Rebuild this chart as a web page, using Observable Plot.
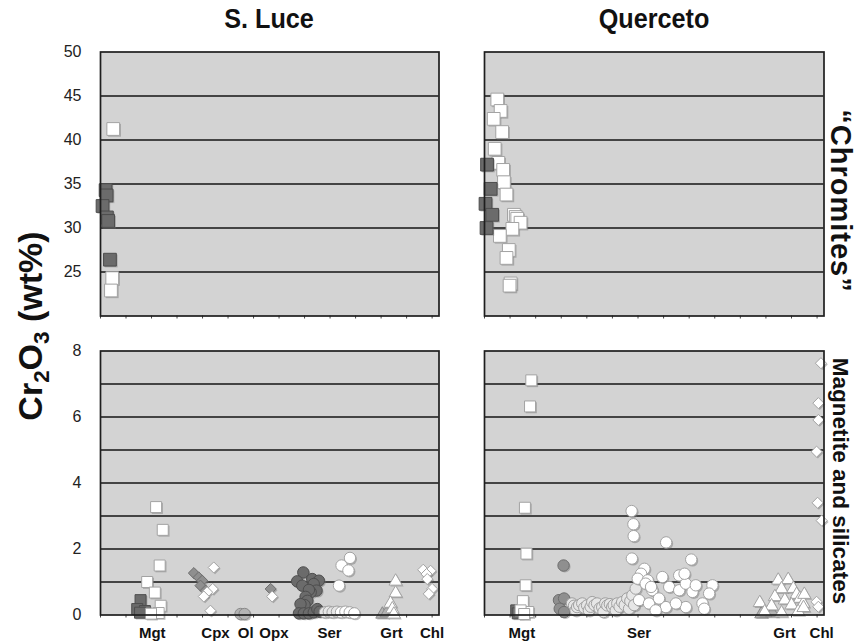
<!DOCTYPE html>
<html>
<head>
<meta charset="utf-8">
<script src="https://cdn.jsdelivr.net/npm/d3@7"></script>
<script src="https://cdn.jsdelivr.net/npm/@observablehq/plot@0.6"></script>
<style>
  html, body { margin: 0; padding: 0; background: #fff; }
  #wrap { position: relative; width: 858px; height: 642px; overflow: hidden; font-family: "Liberation Sans", Arial, sans-serif; }
  .panel { position: absolute; }
  .lbl { position: absolute; white-space: nowrap; color: #111; transform-origin: center center; line-height: 1; }
  .title { font-family: "Liberation Sans", Arial, sans-serif; font-weight: bold; font-size: 28px; }
</style>
</head>
<body>
<div id="wrap"></div>
<script>
// ---------------- DATA ----------------
// x = sample position along the plot (axis units), y = Cr2O3 wt%
const xTicks = [0,1,2,3,4,5,6,7,8,9,10,11,12,13];
const topGrid = [25,30,35,40,45];
const topLabels = [25,30,35,40,45,50];
const bottomGrid = [1,2,3,4,5,6,7];
const bottomLabels = [0,2,4,6,8];

const sluceCats = ["Mgt","Cpx","Ol","Opx","Ser","Grt","Chl"];
const sluceCatPos = [2.03, 4.51, 5.69, 6.8, 8.98, 11.41, 13.0];
const quercetoCats = ["Mgt","Ser","Grt","Chl"];
const quercetoCatPos = [1.46, 6.04, 11.73, 13.18];

// S. Luce "chromites"
const sluceChromDark = [[0.2,34.3],[0.24,33.7],[0.08,32.5],[0.25,31.2],[0.3,30.8],[0.37,26.4]];
const sluceChromWhite = [[0.5,41.25],[0.46,24.3],[0.41,22.9]];

// Querceto "chromites"
const querChromDark = [[0.1,37.2],[0.24,34.45],[0.04,32.75],[0.3,31.5],[0.08,30.0]];
const querChromWhite = [[0.5,44.6],[0.63,43.3],[0.36,42.4],[0.69,40.9],[0.4,39.0],[0.54,37.4],[0.73,36.6],[0.76,35.2],[0.86,33.8],[1.15,31.5],[1.22,31.25],[1.28,31.05],[1.41,30.6],[1.09,29.9],[0.6,29.1],[0.95,27.5],[0.86,26.6],[1.02,23.7],[0.98,23.45]];

// S. Luce magnetite and silicates
const sluceMgtDark = [[1.57,0.45],[1.44,0.18],[1.74,0.12],[1.55,0.07]];
const sluceMgtWhite = [[2.18,3.27],[2.44,2.58],[2.32,1.5],[1.83,1.0],[2.13,0.68],[2.36,0.28],[2.28,0.06],[1.98,0.04]];
const sluceCpxGrey = [[3.66,1.27],[3.85,1.14],[3.99,1.04],[3.92,0.89],[4.12,0.74]];
const sluceCpxWhite = [[4.44,1.44],[4.4,0.79],[4.18,0.69],[4.05,0.56],[4.31,0.13]];
const sluceOl = [[5.49,0.03],[5.65,0.03]];
const sluceOpxGrey = [[6.67,0.79]];
const sluceOpxWhite = [[6.73,0.56]];
const sluceSerDark = [[7.95,1.29],[7.71,1.02],[7.91,0.89],[8.3,1.09],[8.56,1.04],[8.36,0.94],[8.47,0.74],[8.24,0.69],[8.17,0.76],[8.04,0.55],[8.11,0.43],[8.0,0.3],[7.84,0.33],[7.78,0.05],[7.97,0.05],[8.17,0.05],[8.36,0.08],[8.5,0.18],[8.59,0.1]];
const sluceSerLight = [[8.8,0.08],[8.95,0.1],[9.1,0.08],[9.27,0.1]];
const sluceSerWhite = [[9.43,0.08],[9.6,0.1],[9.77,0.08],[9.95,0.05],[9.45,1.5],[9.78,1.73],[9.72,1.35],[9.35,0.89]];
const sluceGrtGrey = [[11.05,0.02],[11.22,0.06]];
const sluceGrtWhite = [[11.57,1.02],[11.57,0.66],[11.37,0.35],[11.44,0.18],[11.5,0.02]];
const sluceChl = [[12.65,1.37],[12.94,1.34],[12.78,1.24],[12.81,1.09],[13.0,0.79],[12.87,0.64]];

// Querceto magnetite and silicates
const querMgtDark = [[1.24,0.14],[1.3,0.05]];
const querMgtWhite = [[1.83,7.11],[1.78,6.32],[1.58,3.25],[1.64,1.86],[1.61,0.9],[1.5,0.42],[1.71,0.09],[1.41,0.14],[1.55,0.03]];
const querSerGrey = [[3.09,1.5],[2.91,0.45],[3.11,0.5],[2.94,0.19],[3.11,0.09]];
const querSerLight = [[3.42,0.35],[3.5,0.28],[3.56,0.14],[3.62,0.24],[3.7,0.3],[3.82,0.35],[3.9,0.22],[4.01,0.29],[4.08,0.14],[4.15,0.25],[4.21,0.39],[4.3,0.3],[4.4,0.35],[4.5,0.2],[4.6,0.24],[4.65,0.09],[4.72,0.35],[4.8,0.29],[4.9,0.33],[4.99,0.24],[5.05,0.3],[5.13,0.14],[5.19,0.35],[5.28,0.25],[5.38,0.39],[5.48,0.3],[5.58,0.5],[5.65,0.19],[5.7,0.42],[5.78,0.6],[5.85,0.3],[5.91,0.8]];
const querSerWhite = [[5.75,3.15],[5.82,2.75],[5.83,2.39],[7.1,2.2],[5.76,1.71],[8.08,1.68],[6.25,1.4],[6.12,1.25],[5.99,1.1],[6.38,1.05],[6.3,0.95],[6.56,0.75],[6.04,0.45],[6.43,0.35],[6.95,1.15],[7.22,0.85],[7.61,1.2],[7.61,0.75],[7.87,0.95],[8.13,0.7],[8.26,0.9],[8.91,0.9],[8.78,0.65],[8.52,0.35],[8.59,0.19],[7.87,0.24],[7.09,0.24],[6.69,0.14],[7.48,0.35],[6.82,0.5],[6.51,0.85],[7.82,1.25]];
const querGrtGrey = [[10.82,0.03],[11.25,0.06]];
const querGrtWhite = [[11.48,1.05],[11.87,1.07],[11.61,0.79],[12.07,0.8],[12.2,0.62],[11.35,0.55],[12.33,0.5],[11.74,0.45],[12.46,0.35],[12.5,0.62],[10.76,0.37],[11.22,0.27],[12.0,0.3],[10.95,0.09],[11.61,0.06],[12.26,0.1],[12.47,0.22]];
const querChl = [[13.15,7.63],[13.05,6.42],[13.05,5.91],[12.98,4.95],[13.02,3.4],[13.18,2.86],[12.98,0.4],[13.05,0.25]];

// ---------------- STYLES ----------------
const BG = "#d3d3d3";
const DARK = {fill: "#6b6b6b", stroke: "#4d4d4d"};
const GREY = {fill: "#8f8f8f", stroke: "#6e6e6e"};
const LGREY = {fill: "#b3b3b3", stroke: "#8a8a8a"};
const LIGHT = {fill: "#e6e6e6", stroke: "#a0a0a0"};
const WHITE = {fill: "#ffffff", stroke: "#a3a3a3"};

function layer(data, symbol, r, col) {
  return [
    Plot.dot(data, {x: d => d[0], y: d => d[1], symbol, r, fill: "#707070", fillOpacity: 0.45, dx: 1.3, dy: 1.3}),
    Plot.dot(data, {x: d => d[0], y: d => d[1], symbol, r, fill: col.fill, stroke: col.stroke, strokeWidth: 1})
  ];
}

const XDOM = [0, 13.27];

function panel({w, h, ml, mr, mt, mb, ydom, grid, labels, cats, catPos, layers}) {
  const marks = [
    Plot.frame({fill: BG}),
    Plot.ruleY(grid, {stroke: "#151515", strokeWidth: 1.7}),
    Plot.axisX(xTicks, {tickSize: 3, tickFormat: () => "", stroke: "#444"})
  ];
  if (labels) marks.push(Plot.axisY(labels, {tickSize: 0, tickPadding: 19, fontSize: 16, fill: "#222"}));
  if (cats) marks.push(Plot.axisX(catPos, {tickSize: 0, tickPadding: 12, tickFormat: (d, i) => cats[i], fontSize: 15, fontWeight: "bold", fill: "#111"}));
  layers.forEach(l => marks.push(...l));
  marks.push(Plot.frame({stroke: "#1e1e1e", strokeWidth: 1.7}));
  return Plot.plot({
    width: w, height: h, marginLeft: ml, marginRight: mr, marginTop: mt, marginBottom: mb,
    style: {fontFamily: "'Liberation Sans', Arial, sans-serif", background: "transparent", overflow: "visible"},
    x: {domain: XDOM, axis: null},
    y: {domain: ydom, axis: null},
    marks
  });
}

const wrap = document.getElementById("wrap");
function place(node, left, top) {
  const d = document.createElement("div");
  d.className = "panel";
  d.style.left = left + "px";
  d.style.top = top + "px";
  d.appendChild(node);
  wrap.appendChild(d);
}

const SQ_TOP = 7.2, SQ = 6.2, CIR = 5.7, DIA = 5.0, TRI = 4.9;

place(panel({w: 450, h: 330, ml: 100, mr: 11.5, mt: 51.5, mb: 14.5, ydom: [20, 50], grid: topGrid, labels: topLabels,
  layers: [layer(sluceChromWhite, "square", SQ_TOP, WHITE), layer(sluceChromDark, "square", SQ_TOP, DARK)]}), 0, 0);

place(panel({w: 408, h: 330, ml: 34, mr: 34.5, mt: 51.5, mb: 14.5, ydom: [20, 50], grid: topGrid,
  layers: [layer(querChromWhite, "square", SQ_TOP, WHITE), layer(querChromDark, "square", SQ_TOP, DARK)]}), 450, 0);

place(panel({w: 450, h: 312, ml: 100, mr: 11.5, mt: 20.5, mb: 27.5, ydom: [0, 8], grid: bottomGrid, labels: bottomLabels,
  cats: sluceCats, catPos: sluceCatPos,
  layers: [
    layer(sluceMgtDark, "square", SQ, DARK), layer(sluceMgtWhite, "square", SQ, WHITE),
    layer(sluceCpxGrey, "diamond2", DIA, GREY), layer(sluceCpxWhite, "diamond2", DIA, WHITE),
    layer(sluceOl, "circle", CIR, LGREY),
    layer(sluceOpxGrey, "diamond2", DIA, GREY), layer(sluceOpxWhite, "diamond2", DIA, WHITE),
    layer(sluceSerDark, "circle", CIR, DARK), layer(sluceSerLight, "circle", CIR, LIGHT), layer(sluceSerWhite, "circle", CIR, WHITE),
    layer(sluceGrtGrey, "triangle", TRI, LGREY), layer(sluceGrtWhite, "triangle", TRI, WHITE),
    layer(sluceChl, "diamond2", DIA, WHITE)
  ]}), 0, 330);

place(panel({w: 408, h: 312, ml: 34, mr: 34.5, mt: 20.5, mb: 27.5, ydom: [0, 8], grid: bottomGrid,
  cats: quercetoCats, catPos: quercetoCatPos,
  layers: [
    layer(querMgtDark, "square", SQ, DARK), layer(querMgtWhite, "square", SQ, WHITE),
    layer(querSerGrey, "circle", CIR, GREY), layer(querSerLight, "circle", CIR, LIGHT), layer(querSerWhite, "circle", CIR, WHITE),
    layer(querGrtGrey, "triangle", TRI, LGREY), layer(querGrtWhite, "triangle", TRI, WHITE),
    layer(querChl, "diamond2", DIA, WHITE)
  ]}), 450, 330);

// ---------------- TEXT ----------------
function label(html, cls, cx, cy, rot, css, sx) {
  const d = document.createElement("div");
  d.className = "lbl " + (cls || "");
  d.innerHTML = html;
  Object.assign(d.style, css || {});
  d.style.left = cx + "px";
  d.style.top = cy + "px";
  d.style.transform = `translate(-50%, -50%) rotate(${rot}deg) scaleX(${sx || 1})`;
  wrap.appendChild(d);
}
label("S. Luce", "title", 269, 19, 0, {}, 0.9);
label("Querceto", "title", 654, 19, 0, {}, 0.9);
label("Cr<sub style='font-size:0.66em;vertical-align:-0.3em;line-height:0'>2</sub>O<sub style='font-size:0.66em;vertical-align:-0.3em;line-height:0'>3</sub> (wt%)", "", 30, 326, -90, {fontWeight: "bold", fontSize: "34px"});
label("\u201CChromites\u201D", "", 840, 201, 90, {fontWeight: "bold", fontSize: "29px", letterSpacing: "1px"});
label("Magnetite and silicates", "", 840, 481, 90, {fontWeight: "bold", fontSize: "22.5px"});
</script>
</body>
</html>
